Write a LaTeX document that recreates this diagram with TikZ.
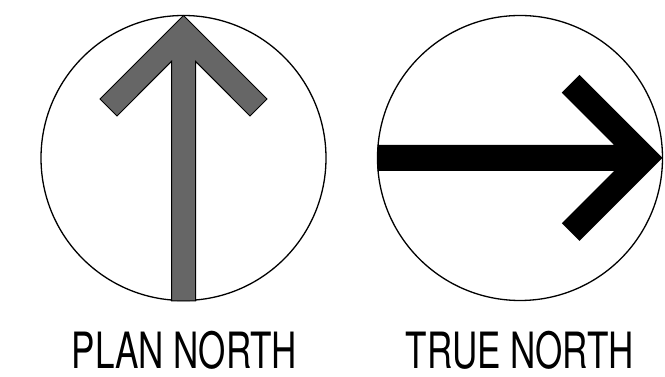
\documentclass[tikz,border=0pt]{standalone}
\usepackage{fontspec}
\newfontfamily\captionfont[FakeStretch=0.70]{TeX Gyre Heros}
\definecolor{pointer}{HTML}{666666}

\begin{document}
\begin{tikzpicture}[x=1pt,y=1pt,
 dial/.style={circle,draw=black,line width=1.3pt,minimum size=285pt,inner sep=0pt},
 caption/.style={font=\captionfont\fontsize{50}{60}\selectfont,anchor=base,inner sep=0pt},
 planarrow/.style={fill=pointer,draw=black,line width=1pt,line join=miter},
 truearrow/.style={fill=black}
]
\useasboundingbox (0,0) rectangle (665,377);
\node[dial] (plandial) at (183.5,219) {};
\node[dial] (truedial) at (520,219) {};
\begin{scope}[shift={(plandial.center)}]
\draw[planarrow] (0,142.5) -- (83.5,59) -- (66.5,42) -- (12,96.6) -- (12,-143)
 -- (-12,-143) -- (-12,96.6) -- (-66.5,42) -- (-83.5,59) -- cycle;
\end{scope}
\begin{scope}[shift={(truedial.center)}]
\fill[truearrow] (142.5,0) -- (59.5,83) -- (41.8,65.3) -- (94.1,13) -- (-142.5,13)
 -- (-142.5,-13) -- (94.1,-13) -- (41.8,-65.3) -- (59.5,-83) -- cycle;
\end{scope}
\node[caption] (planlabel) at (184.5,8) {PLAN NORTH};
\node[caption] (truelabel) at (520,8) {TRUE NORTH};
\end{tikzpicture}
\end{document}
